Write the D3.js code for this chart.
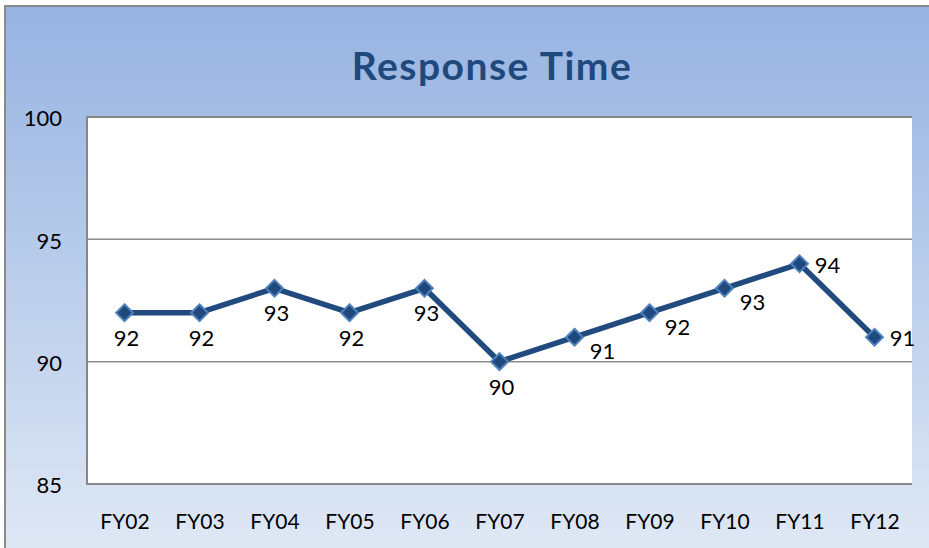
<!DOCTYPE html>
<html>
<head>
<meta charset="utf-8">
<script src="https://cdn.jsdelivr.net/npm/d3@7"></script>
<style>
  body { margin: 0; background: #fff; }
  svg { display: block; font-family: Lato, "Liberation Sans", sans-serif; }
</style>
</head>
<body>
<svg id="chart" width="929" height="548"></svg>
<script>
// data
const years = ["FY02", "FY03", "FY04", "FY05", "FY06", "FY07", "FY08", "FY09", "FY10", "FY11", "FY12"]
const responseTime = [92, 92, 93, 92, 93, 90, 91, 92, 93, 94, 91]
const yTicks = [85, 90, 95, 100]
const title = "Response Time"

// where each value label sits relative to its marker
const labelSpot = ["below", "below", "below", "below", "below", "below",
                   "belowRight", "belowRight", "belowRight", "right", "right"]
const spotOffset = {
    below: [2, 33],
    belowRight: [28, 22],
    right: [28, 9]
}

const svg = d3.select("#chart")

const box = { left: 87, right: 912, top: 117, bottom: 484 }

const defs = svg.append("defs")
const grad = defs.append("linearGradient")
    .attr("id", "bg")
    .attr("x1", 0).attr("y1", 0)
    .attr("x2", 0).attr("y2", 1)
grad.append("stop").attr("offset", "0%").attr("stop-color", "#96b3e1")
grad.append("stop").attr("offset", "100%").attr("stop-color", "#e1e9f5")

// chart frame
svg.append("rect")
    .attr("x", 5).attr("y", 6)
    .attr("width", 940).attr("height", 560)
    .attr("fill", "url(#bg)")
    .attr("stroke", "#8a8a8a")
    .attr("stroke-width", 2)

svg.append("rect")
    .attr("x", box.left).attr("y", box.top)
    .attr("width", box.right - box.left)
    .attr("height", box.bottom - box.top)
    .attr("fill", "#fff")

const x = d3.scalePoint()
    .domain(years)
    .range([box.left, box.right])
    .padding(0.5)

const y = d3.scaleLinear()
    .domain([85, 100])
    .range([box.bottom, box.top])

// gridlines
svg.append("g")
    .selectAll("line")
    .data(yTicks.filter(d => d > 85 && d < 100))
    .enter()
    .append("line")
    .attr("x1", box.left)
    .attr("x2", box.right)
    .attr("y1", d => y(d))
    .attr("y2", d => y(d))
    .attr("stroke", "#8c8c8c")
    .attr("stroke-width", 1.5)

// plot border (top, left, bottom)
svg.append("path")
    .attr("d", `M${box.right},${box.top}H${box.left}V${box.bottom}H${box.right}`)
    .attr("fill", "none")
    .attr("stroke", "#868686")
    .attr("stroke-width", 2)

// y axis
const yAxis = svg.append("g")
    .attr("transform", `translate(${box.left - 25},0)`)
    .call(d3.axisLeft(y).tickValues(yTicks).tickSize(0).tickPadding(0))
yAxis.select(".domain").remove()
yAxis.selectAll("text")
    .attr("font-size", 22)
    .attr("fill", "#000")
    .attr("dy", "0.4em")
    .attr("font-family", "Lato, sans-serif")

// x axis
const xAxis = svg.append("g")
    .attr("transform", `translate(0,${box.bottom})`)
    .call(d3.axisBottom(x).tickSize(0).tickPadding(0))
xAxis.select(".domain").remove()
xAxis.selectAll("text")
    .attr("font-size", 21)
    .attr("fill", "#000")
    .attr("y", 45)
    .attr("dy", 0)
    .attr("font-family", "Lato, sans-serif")

// title
svg.append("text")
    .attr("x", 492)
    .attr("y", 80)
    .attr("text-anchor", "middle")
    .attr("font-size", 39)
    .attr("font-weight", "bold")
    .attr("letter-spacing", 1.5)
    .attr("fill", "#1f497d")
    .text(title)

const points = years.map((yr, i) => ({ yr, v: responseTime[i], spot: labelSpot[i] }))

const line = d3.line()
    .x(d => x(d.yr))
    .y(d => y(d.v))

svg.append("path")
    .datum(points)
    .attr("d", line)
    .attr("fill", "none")
    .attr("stroke", "#214a7e")
    .attr("stroke-width", 5.5)
    .attr("stroke-linejoin", "round")

svg.append("g")
    .selectAll("path")
    .data(points)
    .enter()
    .append("path")
    .attr("d", d3.symbol().type(d3.symbolDiamond2).size(180))
    .attr("transform", d => `translate(${x(d.yr)},${y(d.v)})`)
    .attr("fill", "#1f497d")
    .attr("stroke", "#4f81bd")
    .attr("stroke-width", 2)

svg.append("g")
    .selectAll("text")
    .data(points)
    .enter()
    .append("text")
    .attr("x", d => x(d.yr) + spotOffset[d.spot][0])
    .attr("y", d => y(d.v) + spotOffset[d.spot][1])
    .attr("text-anchor", "middle")
    .attr("font-size", 22)
    .attr("fill", "#000")
    .text(d => d.v)
</script>
</body>
</html>
